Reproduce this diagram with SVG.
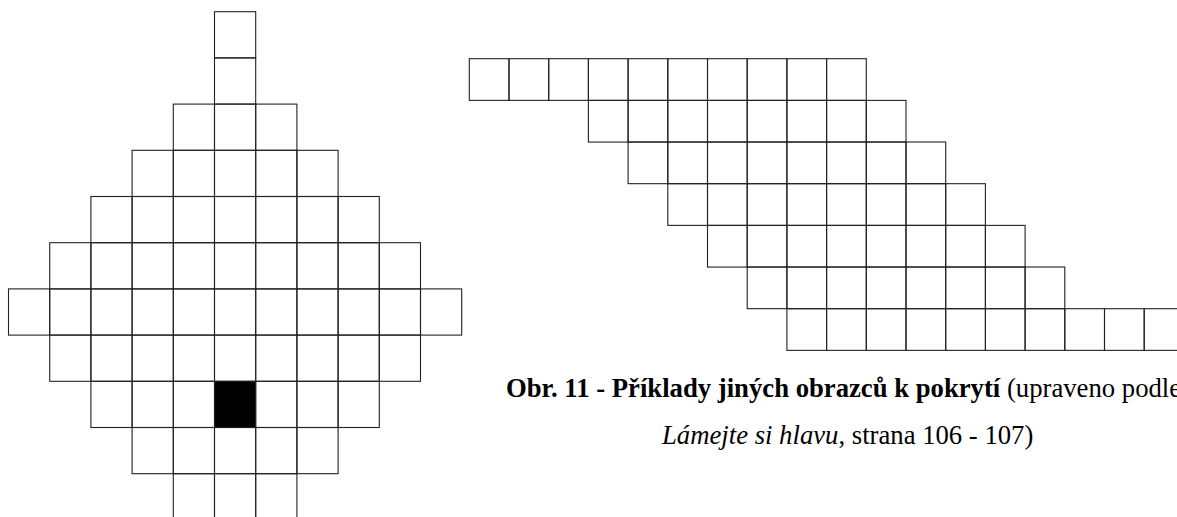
<svg xmlns="http://www.w3.org/2000/svg" xmlns:xlink="http://www.w3.org/1999/xlink" width="1177" height="517" viewBox="0 0 1177 517">
<style>
.c{fill:none;stroke:#222;stroke-width:1.1}
.k{fill:#000;stroke:#222;stroke-width:1.1}
.t{font-family:"Liberation Serif","Times New Roman",serif;font-size:26.7px;fill:#000}
.b{font-weight:bold}
.i{font-style:italic}
</style>
<defs>
<rect id="a" width="41.2" height="46.2"/>
<rect id="r" width="39.7" height="41.67"/>
</defs>
<rect width="1177" height="517" fill="#fff"/>
<g id="shape-diamond" class="c">
<use href="#a" x="214.5" y="11.7"/>
<use href="#a" x="214.5" y="57.9"/>
<use href="#a" x="173.3" y="104.1"/><use href="#a" x="214.5" y="104.1"/><use href="#a" x="255.7" y="104.1"/>
<use href="#a" x="132.1" y="150.3"/><use href="#a" x="173.3" y="150.3"/><use href="#a" x="214.5" y="150.3"/><use href="#a" x="255.7" y="150.3"/><use href="#a" x="296.9" y="150.3"/>
<use href="#a" x="90.9" y="196.5"/><use href="#a" x="132.1" y="196.5"/><use href="#a" x="173.3" y="196.5"/><use href="#a" x="214.5" y="196.5"/><use href="#a" x="255.7" y="196.5"/><use href="#a" x="296.9" y="196.5"/><use href="#a" x="338.1" y="196.5"/>
<use href="#a" x="49.7" y="242.7"/><use href="#a" x="90.9" y="242.7"/><use href="#a" x="132.1" y="242.7"/><use href="#a" x="173.3" y="242.7"/><use href="#a" x="214.5" y="242.7"/><use href="#a" x="255.7" y="242.7"/><use href="#a" x="296.9" y="242.7"/><use href="#a" x="338.1" y="242.7"/><use href="#a" x="379.3" y="242.7"/>
<use href="#a" x="8.5" y="288.9"/><use href="#a" x="49.7" y="288.9"/><use href="#a" x="90.9" y="288.9"/><use href="#a" x="132.1" y="288.9"/><use href="#a" x="173.3" y="288.9"/><use href="#a" x="214.5" y="288.9"/><use href="#a" x="255.7" y="288.9"/><use href="#a" x="296.9" y="288.9"/><use href="#a" x="338.1" y="288.9"/><use href="#a" x="379.3" y="288.9"/><use href="#a" x="420.5" y="288.9"/>
<use href="#a" x="49.7" y="335.1"/><use href="#a" x="90.9" y="335.1"/><use href="#a" x="132.1" y="335.1"/><use href="#a" x="173.3" y="335.1"/><use href="#a" x="214.5" y="335.1"/><use href="#a" x="255.7" y="335.1"/><use href="#a" x="296.9" y="335.1"/><use href="#a" x="338.1" y="335.1"/><use href="#a" x="379.3" y="335.1"/>
<use href="#a" x="90.9" y="381.3"/><use href="#a" x="132.1" y="381.3"/><use href="#a" x="173.3" y="381.3"/><use href="#a" x="214.5" y="381.3" class="k"/><use href="#a" x="255.7" y="381.3"/><use href="#a" x="296.9" y="381.3"/><use href="#a" x="338.1" y="381.3"/>
<use href="#a" x="132.1" y="427.5"/><use href="#a" x="173.3" y="427.5"/><use href="#a" x="214.5" y="427.5"/><use href="#a" x="255.7" y="427.5"/><use href="#a" x="296.9" y="427.5"/>
<use href="#a" x="173.3" y="473.7"/><use href="#a" x="214.5" y="473.7"/><use href="#a" x="255.7" y="473.7"/>
</g>
<g id="shape-staircase" class="c">
<use href="#r" x="469.3" y="58.7"/><use href="#r" x="509" y="58.7"/><use href="#r" x="548.7" y="58.7"/><use href="#r" x="588.4" y="58.7"/><use href="#r" x="628.1" y="58.7"/><use href="#r" x="667.8" y="58.7"/><use href="#r" x="707.5" y="58.7"/><use href="#r" x="747.2" y="58.7"/><use href="#r" x="786.9" y="58.7"/><use href="#r" x="826.6" y="58.7"/>
<use href="#r" x="588.4" y="100.4"/><use href="#r" x="628.1" y="100.4"/><use href="#r" x="667.8" y="100.4"/><use href="#r" x="707.5" y="100.4"/><use href="#r" x="747.2" y="100.4"/><use href="#r" x="786.9" y="100.4"/><use href="#r" x="826.6" y="100.4"/><use href="#r" x="866.3" y="100.4"/>
<use href="#r" x="628.1" y="142"/><use href="#r" x="667.8" y="142"/><use href="#r" x="707.5" y="142"/><use href="#r" x="747.2" y="142"/><use href="#r" x="786.9" y="142"/><use href="#r" x="826.6" y="142"/><use href="#r" x="866.3" y="142"/><use href="#r" x="906" y="142"/>
<use href="#r" x="667.8" y="183.7"/><use href="#r" x="707.5" y="183.7"/><use href="#r" x="747.2" y="183.7"/><use href="#r" x="786.9" y="183.7"/><use href="#r" x="826.6" y="183.7"/><use href="#r" x="866.3" y="183.7"/><use href="#r" x="906" y="183.7"/><use href="#r" x="945.7" y="183.7"/>
<use href="#r" x="707.5" y="225.4"/><use href="#r" x="747.2" y="225.4"/><use href="#r" x="786.9" y="225.4"/><use href="#r" x="826.6" y="225.4"/><use href="#r" x="866.3" y="225.4"/><use href="#r" x="906" y="225.4"/><use href="#r" x="945.7" y="225.4"/><use href="#r" x="985.4" y="225.4"/>
<use href="#r" x="747.2" y="267"/><use href="#r" x="786.9" y="267"/><use href="#r" x="826.6" y="267"/><use href="#r" x="866.3" y="267"/><use href="#r" x="906" y="267"/><use href="#r" x="945.7" y="267"/><use href="#r" x="985.4" y="267"/><use href="#r" x="1025.1" y="267"/>
<use href="#r" x="786.9" y="308.7"/><use href="#r" x="826.6" y="308.7"/><use href="#r" x="866.3" y="308.7"/><use href="#r" x="906" y="308.7"/><use href="#r" x="945.7" y="308.7"/><use href="#r" x="985.4" y="308.7"/><use href="#r" x="1025.1" y="308.7"/><use href="#r" x="1064.8" y="308.7"/><use href="#r" x="1104.5" y="308.7"/><use href="#r" x="1144.2" y="308.7"/>
</g>
<g id="caption">
<text class="t" x="506" y="397"><tspan class="b">Obr. 11 - Příklady jiných obrazců k pokrytí</tspan> (upraveno podle</text>
<text class="t" x="662" y="444"><tspan class="i">Lámejte si hlavu</tspan>, strana 106 - 107)</text>
</g>
</svg>
